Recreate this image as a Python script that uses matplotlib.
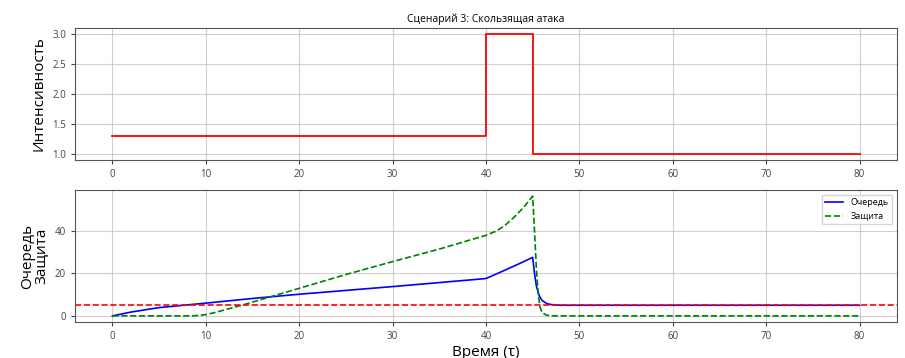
import numpy as np
import matplotlib.pyplot as plt

plt.rcParams['font.family'] = ['Open Sans', 'DejaVu Sans']

# intensity (step)
t_int = [0, 40, 45, 80]
intensity = [1.3, 3.0, 1.0, 1.0]

# queue
t_q = [0, 2, 5, 10, 15, 20, 25, 30, 35, 40, 42, 44, 45, 45.2, 45.4, 45.7, 46, 46.5, 47, 48, 80]
queue = [0, 1.8, 3.9, 6.0, 8.2, 10.2, 12.0, 13.8, 15.7, 17.6, 21.5, 25.5, 27.6,
         20, 14, 9.5, 7.3, 5.8, 5.3, 5.0, 5.0]

# defense
t_d = [0, 8, 9, 10, 11, 12, 14, 16, 20, 25, 30, 35, 40, 41, 42, 43, 44, 45,
       45.2, 45.4, 45.6, 45.8, 46, 46.5, 47, 80]
defense = [0, 0, 0.1, 0.6, 1.6, 2.8, 5.2, 7.8, 13, 19.5, 25.6, 31.5, 38, 39.8, 42.5, 46.5, 51, 56.5,
           40, 22, 10, 4, 1.5, 0.3, 0, 0]

threshold = 5

fig = plt.figure(figsize=(9.05, 3.58), dpi=100)
ax1 = fig.add_axes([0.083, 0.553, 0.908, 0.37])
ax2 = fig.add_axes([0.083, 0.101, 0.908, 0.368])

ax1.plot(t_int, intensity, color='red', lw=1.3, drawstyle='steps-post')
ax1.set_title('Сценарий 3: Скользящая атака', fontsize=7.5, pad=4)
ax1.set_ylabel('Интенсивность', fontsize=11)
ax1.grid(True, alpha=0.6)

ax2.plot(t_q, queue, color='blue', lw=1.2, label='Очередь')
ax2.plot(t_d, defense, color='green', ls='--', lw=1.2, label='Защита')
ax2.axhline(threshold, color='red', ls='--', lw=1.2)
ax2.set_yticks([0, 20, 40])
ax2.set_ylabel('Очередь\nЗащита', fontsize=11, linespacing=0.9)
ax2.set_xlabel('Время (τ)', fontsize=11, labelpad=2)
ax2.legend(loc='upper right', fontsize=6.5)
ax2.grid(True, alpha=0.6)

for ax in (ax1, ax2):
    ax.tick_params(labelsize=7, colors='#444444', length=3)
    for s in ax.spines.values():
        s.set_color('#555555')
ax1.set_xlim(-4, 84)
ax2.set_xlim(-4, 84)

plt.savefig('out.png', dpi=100)
